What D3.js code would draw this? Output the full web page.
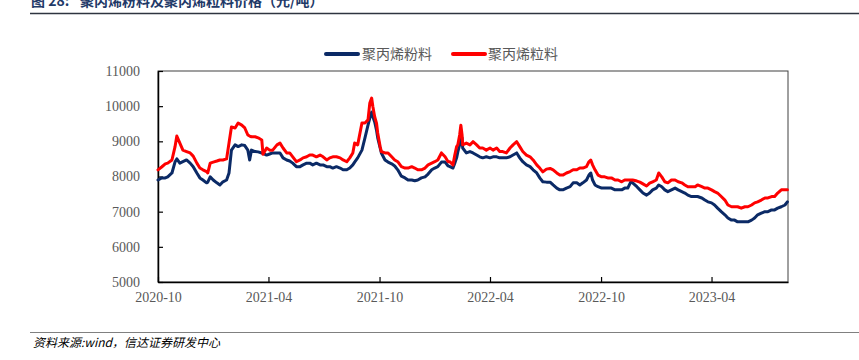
<!DOCTYPE html>
<html>
<head>
<meta charset="utf-8">
<script src="https://cdn.jsdelivr.net/npm/d3@7"></script>
<style>
  html, body { margin: 0; padding: 0; background: #ffffff; }
  svg { display: block; }
</style>
</head>
<body>
<svg id="chart" width="859" height="360"></svg>
<script>
// ---------------- DATA ----------------
const titleText = "聚丙烯粉料及聚丙烯粒料价格（元/吨）";
const titleLabel = "图 28:";
const sourceText = "资料来源:wind，信达证券研发中心";
const seriesNames = ["聚丙烯粉料", "聚丙烯粒料"];
const yTicks = [5000, 6000, 7000, 8000, 9000, 10000, 11000];
const xTickLabels = ["2020-10", "2021-04", "2021-10", "2022-04", "2022-10", "2023-04"];

const dates = [
"2020-10-01","2020-10-07","2020-10-13","2020-10-17","2020-10-24","2020-10-29","2020-11-01","2020-11-06","2020-11-11","2020-11-17",
"2020-11-23","2020-11-28","2020-12-04","2020-12-09","2020-12-14","2020-12-20","2020-12-22","2020-12-26","2020-12-31","2021-01-06",
"2021-01-11","2021-01-16","2021-01-22","2021-01-26","2021-01-30","2021-02-05","2021-02-10","2021-02-16","2021-02-21","2021-02-26",
"2021-03-01","2021-03-04","2021-03-10","2021-03-15","2021-03-21","2021-03-23","2021-03-29","2021-04-03","2021-04-08","2021-04-15",
"2021-04-20","2021-04-25","2021-05-01","2021-05-06","2021-05-11","2021-05-17","2021-05-23","2021-05-28","2021-06-03","2021-06-08",
"2021-06-13","2021-06-19","2021-06-25","2021-06-30","2021-07-06","2021-07-11","2021-07-16","2021-07-22","2021-07-28","2021-08-02",
"2021-08-08","2021-08-13","2021-08-18","2021-08-21","2021-08-26","2021-09-02","2021-09-07","2021-09-12","2021-09-15","2021-09-18",
"2021-09-20","2021-09-23","2021-09-26","2021-09-28","2021-10-02","2021-10-04","2021-10-10","2021-10-15","2021-10-21","2021-10-26",
"2021-10-31","2021-11-06","2021-11-12","2021-11-17","2021-11-23","2021-11-28","2021-12-03","2021-12-09","2021-12-15","2021-12-20",
"2021-12-26","2021-12-31","2022-01-05","2022-01-11","2022-01-17","2022-01-22","2022-01-25","2022-01-30","2022-02-02","2022-02-05",
"2022-02-07","2022-02-10","2022-02-12","2022-02-14","2022-02-15","2022-02-21","2022-02-27","2022-03-04","2022-03-10","2022-03-15",
"2022-03-20","2022-03-26","2022-04-01","2022-04-06","2022-04-12","2022-04-17","2022-04-22","2022-04-28","2022-05-04","2022-05-09",
"2022-05-15","2022-05-20","2022-05-25","2022-05-31","2022-06-06","2022-06-11","2022-06-17","2022-06-22","2022-06-27","2022-07-03",
"2022-07-09","2022-07-14","2022-07-20","2022-07-25","2022-07-30","2022-08-05","2022-08-11","2022-08-16","2022-08-22","2022-08-27",
"2022-09-01","2022-09-07","2022-09-11","2022-09-14","2022-09-17","2022-09-21","2022-09-26","2022-10-02","2022-10-07","2022-10-12",
"2022-10-18","2022-10-24","2022-10-29","2022-11-04","2022-11-09","2022-11-14","2022-11-19","2022-11-22","2022-11-29","2022-12-04",
"2022-12-09","2022-12-15","2022-12-20","2022-12-25","2022-12-31","2023-01-04","2023-01-09","2023-01-14","2023-01-19","2023-01-25",
"2023-01-31","2023-02-05","2023-02-11","2023-02-16","2023-02-21","2023-02-27","2023-03-05","2023-03-09","2023-03-16","2023-03-21",
"2023-03-26","2023-04-01","2023-04-06","2023-04-11","2023-04-17","2023-04-23","2023-04-28","2023-05-04","2023-05-09","2023-05-14",
"2023-05-20","2023-05-26","2023-05-31","2023-06-06","2023-06-11","2023-06-16","2023-06-22","2023-06-28","2023-07-03","2023-07-09",
"2023-07-14","2023-07-19","2023-07-25","2023-07-31","2023-08-04"
];

// 聚丙烯粉料 (powder)
const powder = [
7900,7960,7960,7990,8100,8410,8500,8380,8420,8470,
8380,8280,8100,7960,7900,7820,7840,7990,7900,7820,
7760,7850,7900,8100,8750,8900,8850,8900,8880,8750,
8470,8750,8710,8700,8670,8660,8610,8640,8670,8670,
8670,8530,8470,8440,8380,8280,8280,8330,8380,8380,
8330,8380,8330,8330,8280,8280,8240,8280,8240,8190,
8190,8240,8330,8410,8530,8750,9100,9460,9660,9830,
9700,9550,9320,9100,8810,8670,8470,8410,8360,8300,
8190,8010,7960,7900,7900,7880,7900,7960,7990,8070,
8190,8240,8280,8410,8410,8300,8280,8240,8380,8530,
8700,8900,9040,9100,8810,8670,8710,8670,8610,8560,
8530,8560,8530,8560,8560,8530,8530,8530,8560,8610,
8670,8530,8420,8330,8280,8190,8100,7960,7850,7840,
7840,7760,7670,7620,7620,7670,7710,7820,7820,7760,
7820,7900,8040,8100,7900,7760,7710,7670,7670,7670,
7670,7620,7620,7620,7670,7670,7850,7820,7710,7620,
7530,7470,7530,7620,7670,7760,7710,7620,7570,7620,
7670,7620,7570,7530,7470,7430,7430,7430,7390,7330,
7280,7250,7190,7100,7000,6910,6820,6760,6760,6710,
6710,6710,6710,6760,6820,6910,6960,7000,7000,7050,
7050,7100,7140,7190,7280
];

// 聚丙烯粒料 (pellet)
const pellet = [
8190,8270,8360,8380,8470,8840,9150,8950,8750,8710,
8670,8580,8380,8240,8190,8140,8100,8380,8410,8440,
8470,8470,8500,8950,9410,9380,9520,9460,9380,9180,
9150,9130,9130,9100,9040,8630,8810,8750,8750,8900,
8950,8810,8670,8670,8560,8420,8470,8530,8560,8610,
8610,8560,8610,8560,8470,8530,8560,8560,8530,8470,
8420,8530,8670,8950,8900,9520,9520,9610,10090,10230,
9990,9700,9520,9240,8850,8710,8670,8670,8560,8470,
8420,8280,8240,8240,8280,8240,8190,8190,8240,8330,
8380,8420,8470,8670,8560,8420,8420,8330,8610,8850,
8900,9180,9460,9180,8900,8950,8900,8990,8900,8810,
8810,8750,8810,8750,8810,8710,8710,8670,8810,8900,
8990,8850,8710,8610,8560,8470,8330,8240,8130,8210,
8230,8190,8100,8040,8040,8100,8140,8190,8190,8240,
8240,8280,8420,8470,8330,8190,8040,7990,7990,7960,
7960,7900,7900,7850,7900,7900,7900,7900,7870,7840,
7790,7730,7810,7850,7900,8100,7990,7850,7820,7900,
7900,7850,7820,7760,7710,7710,7710,7760,7710,7670,
7670,7620,7570,7530,7430,7330,7190,7140,7140,7140,
7100,7140,7140,7190,7250,7280,7330,7390,7390,7430,
7430,7530,7620,7620,7620
];

// ---------------- DRAW ----------------
const svg = d3.select("#chart");
const W = 859, H = 360;
const plot = { left: 158, right: 788, top: 71, bottom: 282 };
const parse = d3.timeParse("%Y-%m-%d");
const parseM = d3.timeParse("%Y-%m");
const fmtM = d3.timeFormat("%Y-%m");

const rows = dates.map((d, i) => ({ date: parse(d), powder: powder[i], pellet: pellet[i] }));

const x = d3.scaleTime()
  .domain([parse("2020-10-01"), parse("2023-08-05")])
  .range([plot.left, plot.right]);
const y = d3.scaleLinear()
  .domain([d3.min(yTicks), d3.max(yTicks)])
  .range([plot.bottom, plot.top]);

svg.append("rect").attr("width", W).attr("height", H).attr("fill", "#fff");

// Title
const cjk = "'Noto Sans CJK SC', 'Noto Sans', sans-serif";
const title = svg.append("text")
  .attr("x", 31).attr("y", 6)
  .attr("font-family", cjk)
  .attr("font-size", 14)
  .attr("font-weight", "bold")
  .attr("fill", "#1f3a68");
title.append("tspan").text(titleLabel);
title.append("tspan").attr("x", 80).text(titleText);

svg.append("line")
  .attr("x1", 30).attr("x2", 859).attr("y1", 13.5).attr("y2", 13.5)
  .attr("stroke", "#2e3440").attr("stroke-width", 1.5);

// Plot frame
svg.append("rect")
  .attr("x", plot.left).attr("y", plot.top)
  .attr("width", plot.right - plot.left).attr("height", plot.bottom - plot.top)
  .attr("fill", "none").attr("stroke", "#404040").attr("stroke-width", 1);

// Axes
const tickFont = "'Liberation Serif', 'DejaVu Serif', serif";
const yAxis = d3.axisLeft(y)
  .tickValues(yTicks)
  .tickFormat(d3.format("d"))
  .tickSizeInner(-5).tickSizeOuter(0).tickPadding(18);
const gy = svg.append("g").attr("transform", `translate(${plot.left},0)`).call(yAxis);
gy.select(".domain").attr("stroke", "#000").attr("stroke-width", 1.5);
gy.selectAll(".tick line").attr("stroke", "#000").attr("stroke-width", 1.2);
gy.selectAll(".tick text").attr("font-family", tickFont).attr("font-size", 14).attr("fill", "#595959");

const xTicks = xTickLabels.map(s => parseM(s));
const xAxis = d3.axisBottom(x)
  .tickValues(xTicks)
  .tickFormat(fmtM)
  .tickSizeInner(-5).tickSizeOuter(0).tickPadding(10);
const gx = svg.append("g").attr("transform", `translate(0,${plot.bottom})`).call(xAxis);
gx.select(".domain").attr("stroke", "#000").attr("stroke-width", 1.5);
gx.selectAll(".tick line").attr("stroke", "#000").attr("stroke-width", 1.2);
gx.selectAll(".tick text").attr("font-family", tickFont).attr("font-size", 14).attr("fill", "#595959");

// Lines
const colors = ["#0b2a66", "#ff0000"];
const keys = ["powder", "pellet"];
keys.forEach((k, i) => {
  const line = d3.line().x(d => x(d.date)).y(d => y(d[k])).curve(d3.curveLinear);
  svg.append("path")
    .datum(rows)
    .attr("d", line)
    .attr("fill", "none")
    .attr("stroke", colors[i])
    .attr("stroke-width", 3)
    .attr("stroke-linejoin", "round")
    .attr("stroke-linecap", "round");
});

// Legend
const legendPos = [{ x: 326, tx: 362 }, { x: 453, tx: 488 }];
seriesNames.forEach((name, i) => {
  svg.append("line")
    .attr("x1", legendPos[i].x).attr("x2", legendPos[i].x + 32)
    .attr("y1", 54).attr("y2", 54)
    .attr("stroke", colors[i]).attr("stroke-width", 4).attr("stroke-linecap", "round");
  svg.append("text")
    .attr("x", legendPos[i].tx).attr("y", 54).attr("dy", "0.35em")
    .attr("font-family", cjk).attr("font-size", 14).attr("fill", "#595959")
    .text(name);
});

// Source
svg.append("line")
  .attr("x1", 30).attr("x2", 859).attr("y1", 332.5).attr("y2", 332.5)
  .attr("stroke", "#808080").attr("stroke-width", 1.2);
svg.append("text")
  .attr("x", 33).attr("y", 347)
  .attr("font-family", cjk).attr("font-size", 12).attr("font-style", "italic")
  .attr("fill", "#000")
  .text(sourceText);
</script>
</body>
</html>
